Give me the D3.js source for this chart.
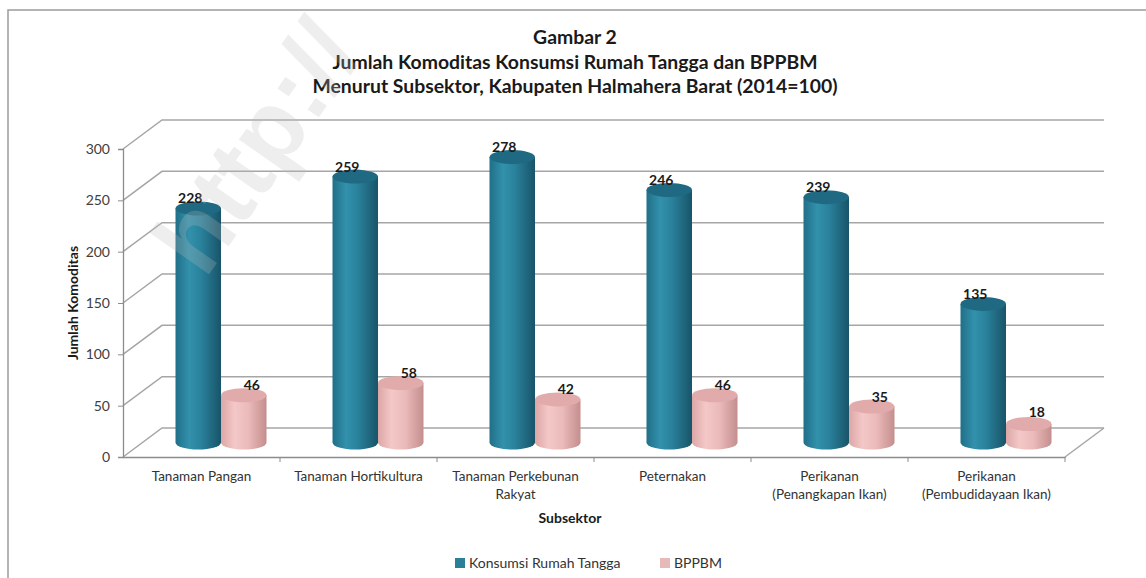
<!DOCTYPE html>
<html>
<head>
<meta charset="utf-8">
<script src="https://cdn.jsdelivr.net/npm/d3@7"></script>
<style>
  body { margin: 0; background: #fff; }
  svg { display: block; font-family: Lato, "Open Sans", sans-serif; }
</style>
</head>
<body>
<svg id="chart" width="1146" height="578"></svg>
<script>
// Data
var categories = ["Tanaman Pangan", "Tanaman Hortikultura", "Tanaman Perkebunan\nRakyat", "Peternakan", "Perikanan\n(Penangkapan Ikan)", "Perikanan\n(Pembudidayaan Ikan)"];
var seriesNames = ["Konsumsi Rumah Tangga", "BPPBM"];
var konsumsi = [228, 259, 278, 246, 239, 135];
var bppbm = [46, 58, 42, 46, 35, 18];
var yTicks = [0, 50, 100, 150, 200, 250, 300];
var titleLines = ["Gambar 2", "Jumlah Komoditas Konsumsi Rumah Tangga dan BPPBM", "Menurut Subsektor, Kabupaten Halmahera Barat (2014=100)"];

var svg = d3.select("#chart");

// depth of the 3d box
var depthX = 39, depthY = -29;

var y = d3.scaleLinear().domain([0, 300]).range([457, 149]);
var x = d3.scaleBand().domain(categories).range([123, 1065]);
var x1 = d3.scaleBand().domain(seriesNames).range([33, 124]);

// gradients for the cylinders
var defs = svg.append("defs");
function grad(id, stops) {
    var g = defs.append("linearGradient").attr("id", id).attr("x1", "0%").attr("x2", "100%");
    stops.forEach(function (s) { g.append("stop").attr("offset", s[0]).attr("stop-color", s[1]); });
}
grad("gTeal", [["0%", "#216f88"], ["30%", "#3291ac"], ["55%", "#2a829c"], ["100%", "#185469"]]);
grad("gPink", [["0%", "#dca6a6"], ["30%", "#f4c8c8"], ["60%", "#ebbaba"], ["100%", "#c48e8e"]]);
var bodyFill = { "Konsumsi Rumah Tangga": "url(#gTeal)", "BPPBM": "url(#gPink)" };
var topFill = { "Konsumsi Rumah Tangga": "#1f6a82", "BPPBM": "#e2abab" };
var legendFill = { "Konsumsi Rumah Tangga": "#2b7f97", "BPPBM": "#e8b9b9" };

// frame
svg.append("path")
    .attr("d", "M8,578 L8,10 L1146,10")
    .attr("fill", "none").attr("stroke", "#9c9c9c").attr("stroke-width", 1.5);

// titles
svg.selectAll("text.title")
    .data(titleLines)
    .enter()
    .append("text")
    .attr("class", "title")
    .attr("x", 575)
    .attr("y", function (d, i) { return 44 + i * 24.5; })
    .attr("text-anchor", "middle")
    .style("font-size", "19.4px")
    .style("font-weight", "bold")
    .attr("fill", "#1a1a1a")
    .text(function (d) { return d; });

// side wall + back wall gridlines
svg.append("g")
    .selectAll("path")
    .data(yTicks)
    .enter()
    .append("path")
    .attr("d", function (d) {
        var p = d3.path();
        p.moveTo(123, y(d));
        p.lineTo(123 + depthX, y(d) + depthY);
        p.lineTo(1065 + depthX, y(d) + depthY);
        return p.toString();
    })
    .attr("fill", "none")
    .attr("stroke", "#a6a6a6")
    .attr("stroke-width", 1.5);

// right side of the floor
svg.append("path")
    .attr("d", "M" + x.range()[1] + "," + y(0) + " L" + (x.range()[1] + depthX) + "," + (y(0) + depthY))
    .attr("fill", "none").attr("stroke", "#a6a6a6").attr("stroke-width", 1.5);

// y axis
var yAxis = svg.append("g")
    .attr("transform", "translate(123,0)")
    .call(d3.axisLeft(y).tickValues(yTicks).tickSize(5).tickPadding(8));
yAxis.select(".domain").attr("stroke", "#8c8c8c").attr("stroke-width", 1.3);
yAxis.selectAll(".tick line").attr("stroke", "#8c8c8c");
yAxis.selectAll(".tick text").style("font-size", "14px").style("font-family", "Lato").attr("fill", "#404040");

// x axis (front edge of the floor)
var xAxis = svg.append("g")
    .attr("transform", "translate(0," + y(0) + ")")
    .call(d3.axisBottom(x).tickSize(0).tickFormat(""));
xAxis.select(".domain").attr("stroke", "#8c8c8c").attr("stroke-width", 1.3);
svg.append("g")
    .selectAll("line")
    .data(categories)
    .enter()
    .append("line")
    .attr("x1", function (d) { return x(d) + x.bandwidth(); })
    .attr("x2", function (d) { return x(d) + x.bandwidth(); })
    .attr("y1", y(0)).attr("y2", y(0) + 5)
    .attr("stroke", "#8c8c8c");

// category labels
var catLabels = svg.append("g")
    .selectAll("text")
    .data(categories)
    .enter()
    .append("text")
    .attr("x", function (d) { return x(d) + x.bandwidth() / 2; })
    .attr("y", 481)
    .attr("text-anchor", "middle")
    .style("font-size", "13.5px")
    .attr("fill", "#333");
catLabels.selectAll("tspan")
    .data(function (d) { return d.split("\n"); })
    .enter()
    .append("tspan")
    .attr("x", function () { return d3.select(this.parentNode).attr("x"); })
    .attr("dy", function (d, i) { return i ? 18 : 0; })
    .text(function (d) { return d; });

// axis titles
svg.append("text")
    .attr("transform", "translate(78,303) rotate(-90)")
    .attr("text-anchor", "middle")
    .style("font-size", "14px").style("font-weight", "bold")
    .attr("fill", "#1a1a1a")
    .text("Jumlah Komoditas");
svg.append("text")
    .attr("x", 570).attr("y", 523)
    .attr("text-anchor", "middle")
    .style("font-size", "14px").style("font-weight", "bold")
    .attr("fill", "#1a1a1a")
    .text("Subsektor");

// bars as cylinders, sitting half way into the depth
var bars = [];
categories.forEach(function (c, i) {
    bars.push({ cat: c, s: seriesNames[0], v: konsumsi[i] });
    bars.push({ cat: c, s: seriesNames[1], v: bppbm[i] });
});
var ry = 7;
function cx(d) { return x(d.cat) + x1(d.s) + x1.bandwidth() / 2 + depthX / 2; }
function topY(d) { return y(d.v) + depthY / 2; }
var baseY = y(0) + depthY / 2;
var rx = x1.bandwidth() / 2;

var barG = svg.append("g")
    .selectAll("g")
    .data(bars)
    .enter()
    .append("g");
barG.append("path")
    .attr("d", function (d) {
        var p = d3.path();
        var l = cx(d) - rx, r = cx(d) + rx;
        p.moveTo(l, topY(d));
        p.lineTo(l, baseY);
        return p.toString() + " A" + rx + "," + ry + " 0 0 0 " + r + "," + baseY + " L" + r + "," + topY(d) + " Z";
    })
    .attr("fill", function (d) { return bodyFill[d.s]; });
barG.append("ellipse")
    .attr("cx", cx)
    .attr("cy", topY)
    .attr("rx", rx)
    .attr("ry", ry)
    .attr("fill", function (d) { return topFill[d.s]; });

// value labels
svg.append("g")
    .selectAll("text")
    .data(bars)
    .enter()
    .append("text")
    .attr("x", function (d) { return cx(d) + (d.s === seriesNames[0] ? -8 : 8); })
    .attr("y", function (d) { return Math.min(topY(d) - 5, baseY - 26); })
    .attr("text-anchor", "middle")
    .style("font-size", "14px").style("font-weight", "bold")
    .attr("fill", "#1a1a1a")
    .text(function (d) { return d.v; });

// legend
var legend = svg.append("g")
    .selectAll("g")
    .data(seriesNames)
    .enter()
    .append("g")
    .attr("transform", function (d, i) { return "translate(" + [455, 660][i] + ",558)"; });
legend.append("rect")
    .attr("width", 10).attr("height", 10)
    .attr("fill", function (d) { return legendFill[d]; });
legend.append("text")
    .attr("x", 14).attr("y", 10)
    .style("font-size", "14px")
    .attr("fill", "#333")
    .text(function (d) { return d; });

// faint watermark from the source scan
svg.append("text")
    .attr("transform", "translate(205,280) rotate(-55)")
    .style("font-size", "100px").style("font-weight", "bold")
    .style("font-family", "Liberation Sans, Arial, sans-serif")
    .attr("fill", "#bdbdbd")
    .attr("fill-opacity", 0.25)
    .text("http://");
</script>
</body>
</html>
